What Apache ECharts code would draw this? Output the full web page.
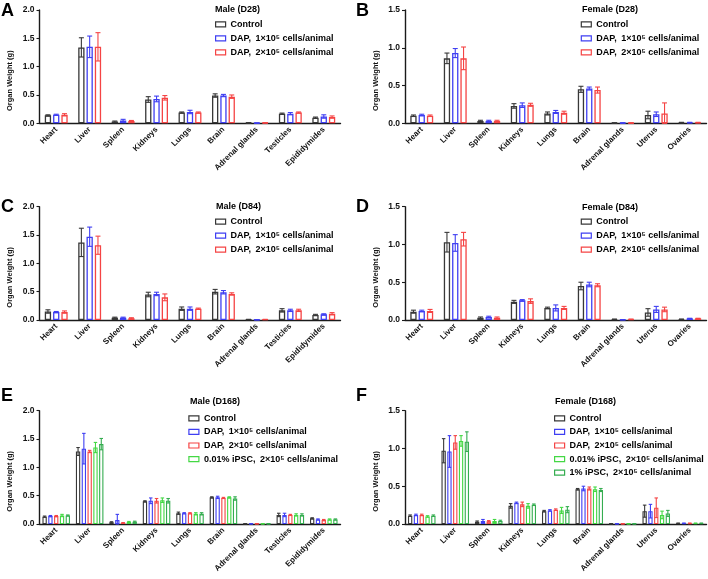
<!DOCTYPE html>
<html><head><meta charset="utf-8">
<script src="https://cdn.jsdelivr.net/npm/echarts@6/dist/echarts.min.js"></script>
<style>html,body{margin:0;padding:0;background:#fff}#c{width:708px;height:579px}</style>
</head><body><div id="c"></div><script>
// ---------- categories / labels ----------
const organsMale = ['Heart','Liver','Spleen','Kidneys','Lungs','Brain','Adrenal glands','Testicles','Epididymides'];
const organsFemale = ['Heart','Liver','Spleen','Kidneys','Lungs','Brain','Adrenal glands','Uterus','Ovaries'];
const groupNames = ['Control','DAP,\u20021×10⁵ cells/animal','DAP,\u20022×10⁵ cells/animal','0.01% iPSC,\u20022×10⁵ cells/animal','1% iPSC,\u20022×10⁵ cells/animal'];
const ticksMale = [0, 0.5, 1.0, 1.5, 2.0];
const ticksFemale = [0, 0.5, 1.0, 1.5];
const yTitle = 'Organ Weight (g)';

// ---------- A: Male (D28) ----------
const A_ctrl    = [0.14,1.34,0.03,0.42,0.19,0.49,0.01,0.17,0.10];
const A_ctrl_sd = [0.01,0.17,0.01,0.05,0.01,0.03,0.002,0.01,0.01];
const A_dap1    = [0.15,1.35,0.05,0.43,0.20,0.49,0.005,0.17,0.12];
const A_dap1_sd = [0.01,0.19,0.02,0.05,0.03,0.02,0.002,0.02,0.03];
const A_dap2    = [0.15,1.35,0.04,0.45,0.19,0.47,0.01,0.19,0.11];
const A_dap2_sd = [0.02,0.25,0.01,0.04,0.01,0.03,0.002,0.01,0.02];
// ---------- B: Female (D28) ----------
const B_ctrl    = [0.10,0.86,0.03,0.23,0.13,0.45,0.005,0.11,0.01];
const B_ctrl_sd = [0.01,0.07,0.01,0.03,0.02,0.04,0.001,0.05,0.003];
const B_dap1    = [0.11,0.93,0.03,0.24,0.15,0.46,0.005,0.12,0.01];
const B_dap1_sd = [0.01,0.06,0.01,0.03,0.02,0.02,0.001,0.03,0.003];
const B_dap2    = [0.10,0.86,0.03,0.245,0.14,0.44,0.005,0.13,0.01];
const B_dap2_sd = [0.01,0.15,0.01,0.02,0.02,0.04,0.001,0.14,0.003];
// ---------- C: Male (D84) ----------
const C_ctrl    = [0.15,1.37,0.04,0.45,0.20,0.50,0.01,0.17,0.09];
const C_ctrl_sd = [0.03,0.25,0.01,0.04,0.03,0.04,0.002,0.03,0.01];
const C_dap1    = [0.14,1.47,0.04,0.46,0.20,0.49,0.005,0.17,0.10];
const C_dap1_sd = [0.01,0.17,0.01,0.03,0.03,0.03,0.002,0.02,0.01];
const C_dap2    = [0.14,1.32,0.03,0.40,0.20,0.46,0.01,0.17,0.11];
const C_dap2_sd = [0.02,0.16,0.01,0.06,0.01,0.02,0.002,0.02,0.02];
// ---------- D: Female (D84) ----------
const D_ctrl    = [0.11,1.03,0.03,0.24,0.16,0.45,0.01,0.10,0.01];
const D_ctrl_sd = [0.02,0.13,0.01,0.02,0.01,0.05,0.002,0.05,0.003];
const D_dap1    = [0.12,1.02,0.04,0.26,0.16,0.47,0.005,0.14,0.02];
const D_dap1_sd = [0.01,0.11,0.01,0.01,0.04,0.03,0.001,0.04,0.003];
const D_dap2    = [0.12,1.07,0.03,0.25,0.16,0.46,0.01,0.14,0.02];
const D_dap2_sd = [0.02,0.09,0.01,0.03,0.02,0.02,0.002,0.03,0.003];
// ---------- E: Male (D168) ----------
const E_ctrl       = [0.13,1.28,0.03,0.40,0.19,0.47,0.005,0.16,0.10];
const E_ctrl_sd    = [0.01,0.07,0.01,0.01,0.02,0.01,0.001,0.03,0.01];
const E_dap1       = [0.14,1.33,0.07,0.41,0.19,0.47,0.005,0.16,0.08];
const E_dap1_sd    = [0.01,0.27,0.10,0.05,0.01,0.02,0.001,0.03,0.01];
const E_dap2       = [0.14,1.28,0.02,0.41,0.19,0.46,0.005,0.16,0.07];
const E_dap2_sd    = [0.01,0.02,0.005,0.04,0.01,0.01,0.001,0.01,0.01];
const E_ipsc001    = [0.15,1.35,0.035,0.42,0.18,0.47,0.005,0.16,0.08];
const E_ipsc001_sd = [0.02,0.09,0.01,0.04,0.02,0.01,0.001,0.02,0.01];
const E_ipsc1      = [0.15,1.41,0.04,0.41,0.18,0.45,0.005,0.16,0.08];
const E_ipsc1_sd   = [0.01,0.10,0.01,0.04,0.02,0.03,0.001,0.02,0.01];
// ---------- F: Female (D168) ----------
const F_ctrl       = [0.11,0.97,0.03,0.24,0.17,0.46,0.004,0.17,0.01];
const F_ctrl_sd    = [0.01,0.16,0.01,0.03,0.01,0.01,0.001,0.08,0.002];
const F_dap1       = [0.12,0.96,0.04,0.28,0.18,0.47,0.004,0.17,0.01];
const F_dap1_sd    = [0.01,0.21,0.02,0.01,0.01,0.03,0.001,0.09,0.002];
const F_dap2       = [0.12,1.08,0.035,0.26,0.19,0.47,0.004,0.215,0.01];
const F_dap2_sd    = [0.01,0.09,0.01,0.03,0.01,0.02,0.001,0.13,0.002];
const F_ipsc001    = [0.10,1.10,0.04,0.24,0.18,0.46,0.004,0.12,0.01];
const F_ipsc001_sd = [0.01,0.07,0.02,0.03,0.04,0.03,0.001,0.05,0.002];
const F_ipsc1      = [0.11,1.09,0.04,0.255,0.19,0.45,0.004,0.14,0.01];
const F_ipsc1_sd   = [0.01,0.13,0.01,0.01,0.04,0.02,0.001,0.04,0.002];

// ---------- styling ----------
const FONT = '"Liberation Sans", Arial, sans-serif';
const COLORS = ['#383838','#3f3ff2','#f54444','#44d844','#35ad50'];
const AXIS_C = '#1a1a1a';

const panels = [
  {letter:'A', title:'Male (D28)',   cats:organsMale,   ticks:ticksMale,   grid:[39.5,10,301,113.3],    titlePos:[215,10],    legPos:[215,19.3],   legN:3, legGap:4,
   ser:[[A_ctrl,A_ctrl_sd],[A_dap1,A_dap1_sd],[A_dap2,A_dap2_sd]], letterPos:[1,2], yt:[10,80.7]},
  {letter:'B', title:'Female (D28)', cats:organsFemale, ticks:ticksFemale, grid:[405,10,301.5,113.3],   titlePos:[582,10],    legPos:[580.7,19.3], legN:3, legGap:4,
   ser:[[B_ctrl,B_ctrl_sd],[B_dap1,B_dap1_sd],[B_dap2,B_dap2_sd]], letterPos:[356,2], yt:[375.7,80.7]},
  {letter:'C', title:'Male (D84)',   cats:organsMale,   ticks:ticksMale,   grid:[39.5,206.7,301,113.3], titlePos:[216,206.7], legPos:[215,216.7],  legN:3, legGap:4,
   ser:[[C_ctrl,C_ctrl_sd],[C_dap1,C_dap1_sd],[C_dap2,C_dap2_sd]], letterPos:[1,198.5], yt:[10,277.3]},
  {letter:'D', title:'Female (D84)', cats:organsFemale, ticks:ticksFemale, grid:[405,206.7,301.5,113.3], titlePos:[582,207.3], legPos:[580.7,216.7], legN:3, legGap:4,
   ser:[[D_ctrl,D_ctrl_sd],[D_dap1,D_dap1_sd],[D_dap2,D_dap2_sd]], letterPos:[356,198.5], yt:[375.7,277.3]},
  {letter:'E', title:'Male (D168)',  cats:organsMale,   ticks:ticksMale,   grid:[39.5,410.7,301,113.3], titlePos:[190,401.7], legPos:[188.3,413.3], legN:4, legGap:3.6,
   ser:[[E_ctrl,E_ctrl_sd],[E_dap1,E_dap1_sd],[E_dap2,E_dap2_sd],[E_ipsc001,E_ipsc001_sd],[E_ipsc1,E_ipsc1_sd]], letterPos:[1,387], yt:[10,481.3]},
  {letter:'F', title:'Female (D168)',cats:organsFemale, ticks:ticksFemale, grid:[405,410.7,301.5,113.3], titlePos:[555,401.7], legPos:[554,413.3], legN:5, legGap:3.6,
   ser:[[F_ctrl,F_ctrl_sd],[F_dap1,F_dap1_sd],[F_dap2,F_dap2_sd],[F_ipsc001,F_ipsc001_sd],[F_ipsc1,F_ipsc1_sd]], letterPos:[356,387], yt:[375.7,481.3]}
];

function errRender(n, si, w, g, cap, color) {
  return function (params, api) {
    const i = api.value(0), m = api.value(1), s = api.value(2);
    const c0 = api.coord([i, m]);
    const total = n * w + (n - 1) * w * g;
    const cx = c0[0] - total / 2 + si * w * (1 + g) + w / 2;
    const yTop = api.coord([i, m + s])[1];
    const yBot = api.coord([i, Math.max(0, m - s)])[1];
    const st = {stroke: color, lineWidth: 1.1};
    return {type: 'group', children: [
      {type: 'line', shape: {x1: cx, y1: yTop, x2: cx, y2: yBot}, style: st},
      {type: 'line', shape: {x1: cx - cap / 2, y1: yTop, x2: cx + cap / 2, y2: yTop}, style: st},
      {type: 'line', shape: {x1: cx - cap / 2, y1: yBot, x2: cx + cap / 2, y2: yBot}, style: st}
    ]};
  };
}

const option = {animation: false, backgroundColor: '#fff', grid: [], xAxis: [], yAxis: [], series: [], legend: [], graphic: []};

panels.forEach((p, pi) => {
  option.grid.push({left: p.grid[0], top: p.grid[1], width: p.grid[2], height: p.grid[3]});
  option.xAxis.push({
    type: 'category', gridIndex: pi, data: p.cats,
    axisLine: {lineStyle: {color: AXIS_C, width: 1.4}},
    axisTick: {alignWithLabel: true, length: 3, lineStyle: {color: AXIS_C, width: 1.1}},
    axisLabel: {rotate: 45, interval: 0, fontSize: 8, fontWeight: 'bold', fontFamily: FONT, color: '#111', margin: 5}
  });
  option.yAxis.push({
    type: 'value', gridIndex: pi, min: 0, max: p.ticks[p.ticks.length - 1], interval: 0.5,
    axisLine: {show: true, lineStyle: {color: AXIS_C, width: 1.4}},
    axisTick: {show: true, length: 3, lineStyle: {color: AXIS_C, width: 1.1}},
    splitLine: {show: false},
    axisLabel: {formatter: v => v.toFixed(1), fontSize: 8.5, fontWeight: 'bold', fontFamily: FONT, color: '#111', margin: 5}
  });
  const n = p.ser.length;
  const bw = n === 3 ? 6.3 : 4.3;
  const bwb = n === 3 ? 1.3 : 1.1;
  const g = n === 3 ? 0.317 : 0.35;
  const cap = n === 3 ? 5 : 3.5;
  p.ser.forEach((pair, si) => {
    const mean = pair[0], sd = pair[1];
    option.series.push({
      type: 'bar', name: groupNames[si], xAxisIndex: pi, yAxisIndex: pi, data: mean,
      barWidth: bw, barGap: (g * 100) + '%', silent: true, z: 2,
      itemStyle: {color: '#fff', borderColor: COLORS[si], borderWidth: bwb}
    });
    option.series.push({
      type: 'custom', name: groupNames[si] + ' SD', xAxisIndex: pi, yAxisIndex: pi, silent: true, z: 3,
      data: mean.map((m, i) => [i, m, sd[i]]),
      encode: {x: 0, y: 1},
      renderItem: errRender(n, si, bw, g, cap, COLORS[si])
    });
  });
  option.legend.push({
    orient: 'vertical', left: p.legPos[0], top: p.legPos[1], padding: 0,
    itemWidth: 10, itemHeight: 5, itemGap: p.legGap, icon: 'rect', selectedMode: false,
    data: groupNames.slice(0, p.legN).map((nm, k) => ({name: nm, itemStyle: {color: '#fff', borderColor: COLORS[k], borderWidth: 1.2}})),
    textStyle: {fontSize: 9, fontWeight: 'bold', fontFamily: FONT, color: '#000', lineHeight: 10}
  });
  option.graphic.push({
    type: 'text', x: p.titlePos[0], y: p.titlePos[1],
    style: {text: p.title, fontSize: 9, fontWeight: 'bold', fontFamily: FONT, fill: '#000', align: 'left', verticalAlign: 'middle'}
  });
  option.graphic.push({
    type: 'text', x: p.letterPos[0], y: p.letterPos[1],
    style: {text: p.letter, fontSize: 18, fontWeight: 'bold', fontFamily: FONT, fill: '#000', align: 'left', verticalAlign: 'top'}
  });
  option.graphic.push({
    type: 'text', x: p.yt[0], y: p.yt[1], rotation: Math.PI / 2,
    style: {text: yTitle, fontSize: 7.5, fontWeight: 'bold', fontFamily: FONT, fill: '#111', align: 'center', verticalAlign: 'middle'}
  });
});

const chart = echarts.init(document.getElementById('c'), null, {renderer: 'canvas'});
chart.setOption(option);
</script></body></html>
